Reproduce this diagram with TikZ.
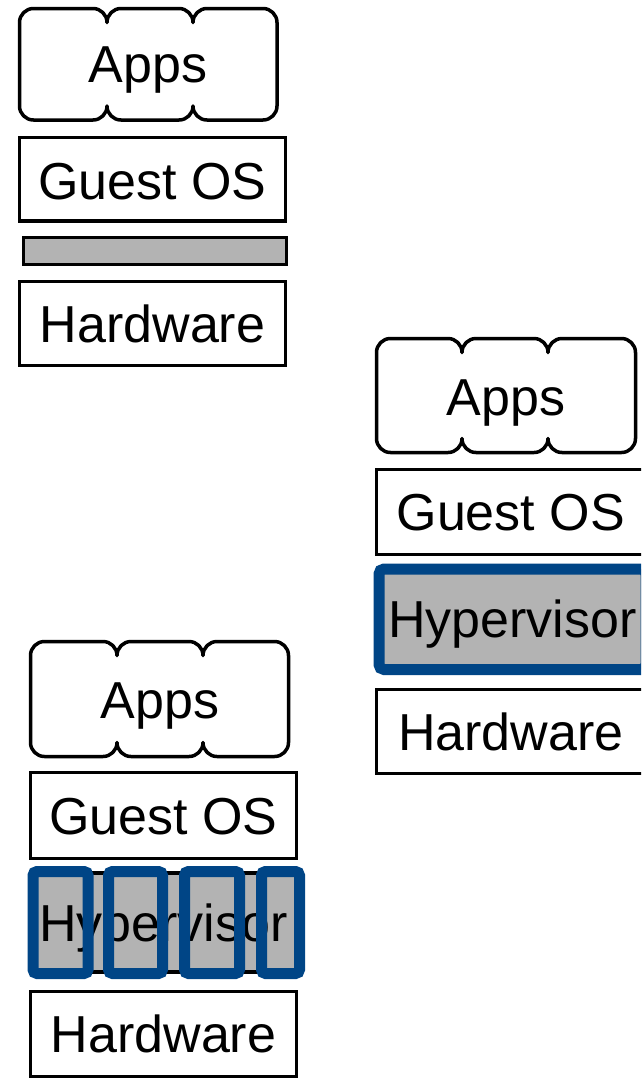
\documentclass[tikz,border=0pt]{standalone}
\usepackage{fontspec}
\setmainfont{Liberation Sans}
\definecolor{hvblue}{HTML}{004586}
\definecolor{hvgray}{HTML}{B3B3B3}
\tikzset{
  txt/.style={inner sep=0pt, font=\fontsize{52}{60}\selectfont, text height=37.2pt, text depth=0pt},
  layer/.style={txt, draw=black, line width=3.5pt, fill=white},
  graylayer/.style={layer, fill=hvgray},
  hvlayer/.style={txt, draw=hvblue, line width=11pt, fill=hvgray, rounded corners=5pt},
  hvframe/.style={draw=hvblue, line width=11pt, rounded corners=4pt, inner sep=0pt},
  cloudline/.style={draw=black, line width=3.5pt, fill=white, line join=round}
}
% three-lobed "Apps" outline: #1 left, #2 right, #3/#4 lobe joints, #5 top, #6 bottom
\newcommand\appscloud[6]{%
  \path[cloudline] (#1,#5+14)
    arc[start angle=180,end angle=90,radius=14pt] -- (#3-14,#5)
    arc[start angle=90,end angle=0,radius=14pt]
    arc[start angle=180,end angle=90,radius=14pt] -- (#4-14,#5)
    arc[start angle=90,end angle=0,radius=14pt]
    arc[start angle=180,end angle=90,radius=14pt] -- (#2-14,#5)
    arc[start angle=90,end angle=0,radius=14pt] -- (#2,#6-14)
    arc[start angle=0,end angle=-90,radius=14pt] -- (#4+14,#6)
    arc[start angle=-90,end angle=-180,radius=14pt]
    arc[start angle=0,end angle=-90,radius=14pt] -- (#3+14,#6)
    arc[start angle=-90,end angle=-180,radius=14pt]
    arc[start angle=0,end angle=-90,radius=14pt] -- (#1+14,#6)
    arc[start angle=-90,end angle=-180,radius=14pt] -- cycle;}
\begin{document}
\begin{tikzpicture}[x=1pt,y=-1pt]
  \useasboundingbox (0,0) rectangle (641,1080);
  \clip (0,0) rectangle (641,1080);
  \fill[white] (0,0) rectangle (641,1080);

  % stack 1: no hypervisor
  \appscloud{19.5}{277}{107}{193}{8.5}{120}
  \node[txt] (apps1) at (148,64) {Apps};
  \node[layer, minimum width=266pt, minimum height=83.5pt] (guest1) at (152.5,179.25) {};
  \node[txt] (guest1lbl) at (152.5,181) {Guest OS};
  \node[graylayer, minimum width=263pt, minimum height=27pt, text height=0pt] (bar1) at (155,251) {};
  \node[layer, minimum width=266pt, minimum height=84pt] (hw1) at (152.5,323.5) {Hardware};

  % stack 2: one hypervisor
  \appscloud{376.5}{635.5}{462}{548}{338.5}{452.5}
  \node[txt] (apps2) at (506,397) {Apps};
  \node[layer, minimum width=268.5pt, minimum height=85pt] (guest2) at (510.75,512) {Guest OS};
  \node[hvlayer, minimum width=267pt, minimum height=100.5pt] (hyp2) at (512.5,619.25) {Hypervisor};
  \node[layer, minimum width=268.5pt, minimum height=84pt] (hw2) at (510.75,731.5) {Hardware};

  % stack 3: hypervisor split into frames
  \appscloud{30.5}{288.5}{117}{203}{641.5}{756.5}
  \node[txt] (apps3) at (160,699.5) {Apps};
  \node[layer, minimum width=266pt, minimum height=86pt] (guest3) at (163.5,815.5) {Guest OS};
  \node[graylayer, minimum width=266pt, minimum height=99pt] (hyp3) at (163.5,922.5) {Hypervisor};
  \node[hvframe, minimum width=55pt, minimum height=102pt] (frame1) at (60.5,922.5) {};
  \node[hvframe, minimum width=54pt, minimum height=102pt] (frame2) at (135.5,922.5) {};
  \node[hvframe, minimum width=55pt, minimum height=102pt] (frame3) at (212,922.5) {};
  \node[hvframe, minimum width=38pt, minimum height=102pt] (frame4) at (280.5,922.5) {};
  \node[layer, minimum width=266pt, minimum height=85pt] (hw3) at (163.5,1034) {Hardware};
\end{tikzpicture}
\end{document}
